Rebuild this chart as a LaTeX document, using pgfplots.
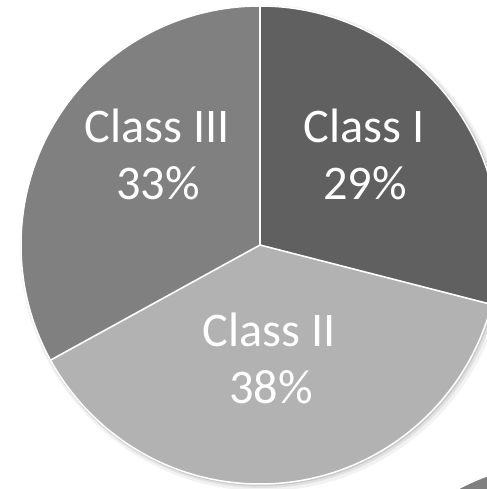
\documentclass[border=0pt]{standalone}
\usepackage{pgfplots}
\usepackage{pgfplotstable}
\pgfplotsset{compat=1.18}
\usepackage{fontspec}
\setmainfont{Carlito}
\definecolor{cI}{HTML}{606060}
\definecolor{cII}{HTML}{B2B2B2}
\definecolor{cIII}{HTML}{808080}
\pgfplotstableread{
label value
{Class I} 29
{Class II} 38
{Class III} 33
}\piedata
\pgfplotstablegetelem{0}{value}\of\piedata \let\vI\pgfplotsretval
\pgfplotstablegetelem{1}{value}\of\piedata \let\vII\pgfplotsretval
\pgfplotstablegetelem{2}{value}\of\piedata \let\vIII\pgfplotsretval
\pgfmathsetmacro{\aI}{90-3.6*\vI}
\pgfmathsetmacro{\aII}{\aI-3.6*\vII}
\pgfmathsetmacro{\aIII}{\aII-3.6*\vIII}
\begin{document}
\begin{tikzpicture}
\begin{axis}[name=ax, scale only axis, width=487bp, height=489bp,
  xmin=0, xmax=487, ymin=0, ymax=489, hide axis, clip=true]
% soft shadows
\fill[black,opacity=0.05] (axis cs:263,241) circle[radius=243];
\fill[black,opacity=0.07] (axis cs:262,242) circle[radius=241];
\fill[black,opacity=0.10] (axis cs:261,243) circle[radius=240];
\fill[black,opacity=0.05] (axis cs:573,-214) circle[radius=243];
\fill[black,opacity=0.08] (axis cs:571,-212) circle[radius=241];
% neighbouring fragment
\fill[cIII,draw=white,line width=1.5bp] (axis cs:570,-211) circle[radius=239];
% slices
\fill[cI] (axis cs:260,244) -- ++(90:239) arc[start angle=90,end angle=\aI,radius=239] -- cycle;
\fill[cII] (axis cs:260,244) -- ++(\aI:239) arc[start angle=\aI,end angle=\aII,radius=239] -- cycle;
\fill[cIII] (axis cs:260,244) -- ++(\aII:239) arc[start angle=\aII,end angle=\aIII,radius=239] -- cycle;
\draw[white,line width=1.6bp] (axis cs:260,244) -- ++(90:239);
\draw[white,line width=1.6bp] (axis cs:260,244) -- ++(\aI:239);
\draw[white,line width=1.6bp] (axis cs:260,244) -- ++(\aII:239);
\draw[white,line width=1.5bp] (axis cs:260,244) circle[radius=239];
% labels
\begin{scope}[every node/.style={text=white,anchor=base,inner sep=0pt,font=\fontsize{48.5}{58}\selectfont}]
\node at (axis cs:364,346) {Class I};
\node at (axis cs:365,289) {\vI\%};
\node at (axis cs:269,142) {Class II};
\node at (axis cs:271,85) {\vII\%};
\node at (axis cs:157,346) {Class III};
\node at (axis cs:158,289) {\vIII\%};
\end{scope}
\end{axis}
\pgfresetboundingbox
\path (ax.south west) rectangle (ax.north east);
\end{tikzpicture}
\end{document}
